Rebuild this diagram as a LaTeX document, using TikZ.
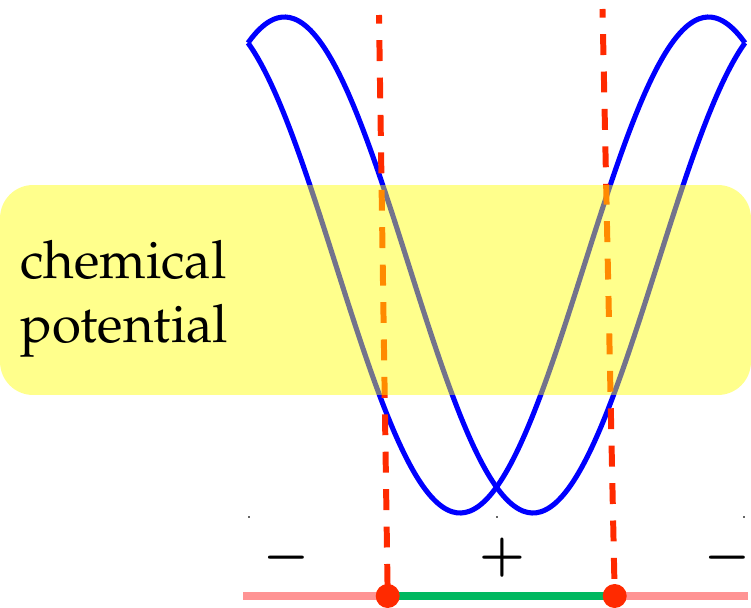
\documentclass[tikz,border=0pt]{standalone}
\usepackage[T1]{fontenc}
\usepackage{mathpazo}
\usepackage{tikz}
\usetikzlibrary{positioning}

\definecolor{bandblue}{RGB}{0,0,255}
\definecolor{cutred}{RGB}{255,42,0}
\definecolor{zonepink}{RGB}{255,148,148}
\definecolor{fillgreen}{RGB}{0,184,96}
\definecolor{boxyellow}{RGB}{255,255,0}

\begin{document}
\begin{tikzpicture}[
    x=0.02cm, y=-0.02cm,
    band/.style={
        draw=bandblue,
        line width=2.9pt,
        line join=round
    },
    cutline/.style={
        draw=cutred,
        line width=3.4pt,
        dash pattern=on 11.9pt off 9.4pt,
        dash phase=7pt
    },
    zone/.style={
        draw=zonepink,
        line width=5.1pt
    },
    occupied/.style={
        draw=fillgreen,
        line width=5.1pt
    },
    fermidot/.style={
        circle,
        fill=cutred,
        inner sep=0pt,
        minimum size=0.48cm
    },
    tickmark/.style={
        draw=black!60,
        line width=0.6pt
    },
    mubox/.style={
        rectangle,
        rounded corners=0.66cm,
        fill=boxyellow,
        fill opacity=0.45,
        inner sep=0pt,
        minimum width=15.02cm,
        minimum height=4.2cm
    },
    mulabel/.style={
        font=\fontsize{30}{34}\selectfont,
        inner sep=0pt
    },
    signlabel/.style={
        font=\boldmath\fontsize{28}{30}\selectfont,
        inner sep=0pt,
        anchor=base
    }
]
\useasboundingbox (0,0) rectangle (751,608);

% --- Bands -------------------------------------------------------------------

\draw[band] plot[domain=-180:180, samples=120, smooth]
    ({496.5+\x/360*497}, {265+248*cos(\x-26.4)});
\draw[band] plot[domain=-180:180, samples=120, smooth]
    ({496.5+\x/360*497}, {265+248*cos(\x+26.4)});

\draw[tickmark] (249,516) -- (249,518);
\draw[tickmark] (497,516) -- (497,518);
\draw[tickmark] (744,516) -- (744,518);

% --- Fermi points ------------------------------------------------------------

\coordinate (ltop) at (379,15);
\coordinate (rtop) at (602.5,9);
\coordinate (lfermi) at (387.7,596);
\coordinate (rfermi) at (614.7,596);
\coordinate (zleft) at (243,596);
\coordinate (zright) at (748,596);

\draw[cutline] (ltop) -- (lfermi);
\draw[cutline] (rtop) -- (rfermi);

% --- Chemical potential window -----------------------------------------------

\node[mubox] (window) at (375.5,290) {};
\node[mulabel, anchor=base west] (chem) at (20,278) {chemical};
\node[mulabel, anchor=base west] (pot) at (20,342) {potential};

% --- Occupation line ---------------------------------------------------------

\draw[zone] (zleft) -- (lfermi);
\draw[zone] (rfermi) -- (zright);
\draw[occupied] (lfermi) -- (rfermi);

\node[fermidot] (ldot) at (lfermi) {};
\node[fermidot] (rdot) at (rfermi) {};

\node[signlabel] (lsign) at (286.5,570) {$-$};
\node[signlabel] (msign) at (502,570) {$+$};
\node[signlabel] (rsign) at (727.5,570) {$-$};

\end{tikzpicture}
\end{document}
